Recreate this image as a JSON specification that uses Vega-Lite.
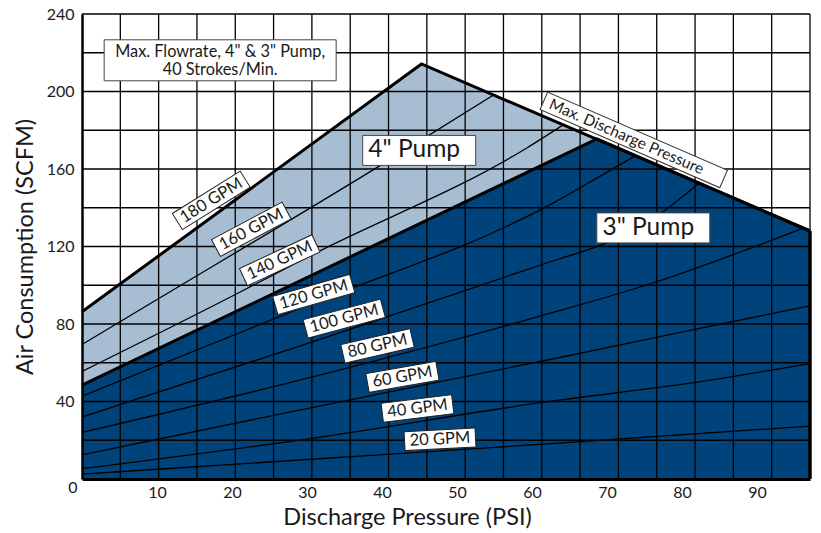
{
  "$schema": "https://vega.github.io/schema/vega-lite/v6.json",
  "width": 728,
  "height": 465,
  "autosize": {"type": "none"},
  "padding": {"left": 82, "top": 14, "right": 11, "bottom": 54},
  "background": "white",
  "config": {"view": {"stroke": null}, "font": "Lato", "text": {"font": "Lato", "color": "#1a1a1a"}},
  "datasets": {
    "bounds": [
      {"pump": "4in", "psi": 0, "scfm": 86.3},
      {"pump": "4in", "psi": 44.3, "scfm": 214.2},
      {"pump": "4in", "psi": 95, "scfm": 128},
      {"pump": "3in", "psi": 0, "scfm": 48.5},
      {"pump": "3in", "psi": 67.2, "scfm": 175.5},
      {"pump": "3in", "psi": 95, "scfm": 128}
    ],
    "gridx": [
      {"psi": 5}, {"psi": 10}, {"psi": 15}, {"psi": 20}, {"psi": 25}, {"psi": 30}, {"psi": 35}, {"psi": 40}, {"psi": 45}, {"psi": 50},
      {"psi": 55}, {"psi": 60}, {"psi": 65}, {"psi": 70}, {"psi": 75}, {"psi": 80}, {"psi": 85}, {"psi": 90}, {"psi": 95}
    ],
    "gridy": [
      {"scfm": 20}, {"scfm": 40}, {"scfm": 60}, {"scfm": 80}, {"scfm": 100}, {"scfm": 120},
      {"scfm": 140}, {"scfm": 160}, {"scfm": 180}, {"scfm": 200}, {"scfm": 220}, {"scfm": 240}
    ],
    "curves": [
      {"gpm": "20 GPM", "psi": 0, "scfm": 2.5},
      {"gpm": "20 GPM", "psi": 28.4, "scfm": 9.8},
      {"gpm": "20 GPM", "psi": 61.7, "scfm": 18.4},
      {"gpm": "20 GPM", "psi": 95, "scfm": 27.3},
      {"gpm": "40 GPM", "psi": 0, "scfm": 5.3},
      {"gpm": "40 GPM", "psi": 28.4, "scfm": 20.1},
      {"gpm": "40 GPM", "psi": 61.7, "scfm": 40.4},
      {"gpm": "40 GPM", "psi": 79.1, "scfm": 49.3},
      {"gpm": "40 GPM", "psi": 95, "scfm": 59.6},
      {"gpm": "60 GPM", "psi": 0, "scfm": 12.5},
      {"gpm": "60 GPM", "psi": 28.4, "scfm": 35.6},
      {"gpm": "60 GPM", "psi": 61.7, "scfm": 62.2},
      {"gpm": "60 GPM", "psi": 79.5, "scfm": 76.8},
      {"gpm": "60 GPM", "psi": 95, "scfm": 89.4},
      {"gpm": "80 GPM", "psi": 0, "scfm": 24},
      {"gpm": "80 GPM", "psi": 28.4, "scfm": 51},
      {"gpm": "80 GPM", "psi": 61.7, "scfm": 86.2},
      {"gpm": "80 GPM", "psi": 74.3, "scfm": 100.9},
      {"gpm": "80 GPM", "psi": 94.1, "scfm": 129.5},
      {"gpm": "100 GPM", "psi": 0, "scfm": 32},
      {"gpm": "100 GPM", "psi": 28.4, "scfm": 68.6},
      {"gpm": "100 GPM", "psi": 61.7, "scfm": 112.9},
      {"gpm": "100 GPM", "psi": 68.2, "scfm": 121.5},
      {"gpm": "100 GPM", "psi": 74.8, "scfm": 135.2},
      {"gpm": "100 GPM", "psi": 80.5, "scfm": 152.7},
      {"gpm": "120 GPM", "psi": 0, "scfm": 42.7},
      {"gpm": "120 GPM", "psi": 28.4, "scfm": 88},
      {"gpm": "120 GPM", "psi": 61.7, "scfm": 142.9},
      {"gpm": "120 GPM", "psi": 67.4, "scfm": 155.8},
      {"gpm": "120 GPM", "psi": 72.2, "scfm": 166.8},
      {"gpm": "140 GPM", "psi": 0, "scfm": 55.5},
      {"gpm": "140 GPM", "psi": 20.4, "scfm": 96},
      {"gpm": "140 GPM", "psi": 29.9, "scfm": 115.5},
      {"gpm": "140 GPM", "psi": 58.1, "scfm": 171},
      {"gpm": "140 GPM", "psi": 62.8, "scfm": 182.8},
      {"gpm": "160 GPM", "psi": 0, "scfm": 69.4},
      {"gpm": "160 GPM", "psi": 8.6, "scfm": 89.8},
      {"gpm": "160 GPM", "psi": 39, "scfm": 162},
      {"gpm": "160 GPM", "psi": 53.7, "scfm": 198.2}
    ],
    "gpmlabels": [
      {"label": "180 GPM", "psi": 16.87, "scfm": 143.8, "rot": -32},
      {"label": "160 GPM", "psi": 22.09, "scfm": 128.9, "rot": -28},
      {"label": "140 GPM", "psi": 25.8, "scfm": 112.9, "rot": -25},
      {"label": "120 GPM", "psi": 30.24, "scfm": 95.2, "rot": -16},
      {"label": "100 GPM", "psi": 34.22, "scfm": 82.8, "rot": -15},
      {"label": "80 GPM", "psi": 38.56, "scfm": 68.7, "rot": -13},
      {"label": "60 GPM", "psi": 41.82, "scfm": 52.7, "rot": -10},
      {"label": "40 GPM", "psi": 43.78, "scfm": 36.4, "rot": -7},
      {"label": "20 GPM", "psi": 46.72, "scfm": 20.5, "rot": -3}
    ],
    "pumplabels": [
      {"label": "4\" Pump", "psi": 44.0, "scfm": 169.6},
      {"label": "3\" Pump", "psi": 74.55, "scfm": 129.6}
    ],
    "note": [
      {"label": "Max. Flowrate, 4\" & 3\" Pump,\n40 Strokes/Min.", "psi": 18.03, "scfm": 216.1}
    ],
    "maxd": [
      {"label": "Max. Discharge Pressure", "psi": 72.0, "scfm": 175.0}
    ]
  },
  "layer": [
    {
      "layer": [
        {
          "data": {"name": "bounds"},
          "transform": [{"filter": "datum.pump === '4in'"}],
          "mark": {"type": "area", "color": "#a7bdd2", "opacity": 1},
          "encoding": {
            "x": {"field": "psi", "type": "quantitative", "scale": {"domain": [0, 95], "nice": false}, "axis": null},
            "y": {"field": "scfm", "type": "quantitative", "scale": {"domain": [0, 240], "nice": false},
              "axis": {
                "values": [0, 40, 80, 120, 160, 200, 240],
                "grid": false, "ticks": false, "tickSize": 0,
                "domain": true, "domainColor": "black", "domainWidth": 2.5,
                "labelFont": "Lato", "labelFontSize": 16, "labelColor": "#1a1a1a",
                "labelPadding": {"condition": {"test": "datum.value === 0", "value": 5}, "value": 8},
                "labelBaseline": {"condition": {"test": "datum.value === 0", "value": "top"}, "value": "middle"},
                "title": "Air Consumption (SCFM)", "titleFont": "Lato", "titleFontSize": 23.5,
                "titleFontWeight": "normal", "titleColor": "#1a1a1a", "titlePadding": 9,
                "zindex": 1
              }
            }
          }
        },
        {
          "data": {"name": "bounds"},
          "transform": [{"filter": "datum.pump === '3in'"}],
          "mark": {"type": "area", "color": "#00427a", "opacity": 1},
          "encoding": {
            "x": {"field": "psi", "type": "quantitative", "axis": null},
            "y": {"field": "scfm", "type": "quantitative"}
          }
        },
        {
          "data": {"name": "gridx"},
          "mark": {"type": "rule", "color": "black", "strokeWidth": 1.3},
          "encoding": {"x": {"field": "psi", "type": "quantitative", "axis": null}}
        },
        {
          "data": {"name": "gridy"},
          "mark": {"type": "rule", "color": "black", "strokeWidth": 1.3},
          "encoding": {"y": {"field": "scfm", "type": "quantitative"}}
        },
        {
          "data": {"name": "curves"},
          "mark": {"type": "line", "color": "black", "strokeWidth": 1.3, "interpolate": "monotone"},
          "encoding": {
            "x": {"field": "psi", "type": "quantitative", "axis": null},
            "y": {"field": "scfm", "type": "quantitative"},
            "detail": {"field": "gpm", "type": "nominal"}
          }
        },
        {
          "data": {"name": "bounds"},
          "mark": {"type": "line", "color": "black", "strokeWidth": 3},
          "encoding": {
            "x": {"field": "psi", "type": "quantitative", "axis": null},
            "y": {"field": "scfm", "type": "quantitative"},
            "detail": {"field": "pump", "type": "nominal"}
          }
        },
        {
          "data": {"name": "bounds"},
          "transform": [{"filter": "datum.pump === '3in' && datum.psi === 95"}],
          "mark": {"type": "rule", "color": "black", "strokeWidth": 3.5},
          "encoding": {
            "x": {"field": "psi", "type": "quantitative", "axis": null},
            "y": {"field": "scfm", "type": "quantitative"},
            "y2": {"datum": 0}
          }
        },
        {
          "data": {"name": "gpmlabels"},
          "transform": [{"filter": "length(datum.label) === 7"}],
          "mark": {"type": "point", "shape": "M-1,-0.2375H1V0.2375H-1Z", "size": 6400, "filled": true, "fill": "white", "stroke": "#222222", "strokeWidth": 1, "opacity": 1},
          "encoding": {
            "x": {"field": "psi", "type": "quantitative", "axis": null},
            "y": {"field": "scfm", "type": "quantitative"},
            "angle": {"field": "rot", "type": "quantitative", "scale": null}
          }
        },
        {
          "data": {"name": "gpmlabels"},
          "transform": [{"filter": "length(datum.label) === 6"}],
          "mark": {"type": "point", "shape": "M-1,-0.2676H1V0.2676H-1Z", "size": 5041, "filled": true, "fill": "white", "stroke": "#222222", "strokeWidth": 1, "opacity": 1},
          "encoding": {
            "x": {"field": "psi", "type": "quantitative", "axis": null},
            "y": {"field": "scfm", "type": "quantitative"},
            "angle": {"field": "rot", "type": "quantitative", "scale": null}
          }
        },
        {
          "data": {"name": "gpmlabels"},
          "mark": {"type": "text", "font": "Lato", "fontSize": 16.5, "color": "#1a1a1a", "align": "center", "baseline": "middle"},
          "encoding": {
            "x": {"field": "psi", "type": "quantitative", "axis": null},
            "y": {"field": "scfm", "type": "quantitative"},
            "angle": {"field": "rot", "type": "quantitative", "scale": null},
            "text": {"field": "label"}
          }
        },
        {
          "data": {"name": "pumplabels"},
          "mark": {"type": "point", "shape": "M-1,-0.2655H1V0.2655H-1Z", "size": 12769, "filled": true, "fill": "white", "stroke": "#444444", "strokeWidth": 1, "opacity": 1},
          "encoding": {
            "x": {"field": "psi", "type": "quantitative", "axis": null},
            "y": {"field": "scfm", "type": "quantitative"}
          }
        },
        {
          "data": {"name": "pumplabels"},
          "mark": {"type": "text", "font": "Lato", "fontSize": 24.5, "color": "#1a1a1a", "align": "center", "baseline": "middle", "dx": -5},
          "encoding": {
            "x": {"field": "psi", "type": "quantitative", "axis": null},
            "y": {"field": "scfm", "type": "quantitative"},
            "text": {"field": "label"}
          }
        },
        {
          "data": {"name": "note"},
          "mark": {"type": "point", "shape": "M-1,-0.1767H1V0.1767H-1Z", "size": 53824, "filled": true, "fill": "white", "stroke": "#444444", "strokeWidth": 1, "opacity": 1},
          "encoding": {
            "x": {"field": "psi", "type": "quantitative", "axis": null},
            "y": {"field": "scfm", "type": "quantitative"}
          }
        },
        {
          "data": {"name": "note"},
          "mark": {"type": "text", "font": "Lato", "fontSize": 16.3, "color": "#1a1a1a", "align": "center", "baseline": "middle", "lineBreak": "\n", "lineHeight": 18.5, "dy": -8.5},
          "encoding": {
            "x": {"field": "psi", "type": "quantitative", "axis": null},
            "y": {"field": "scfm", "type": "quantitative"},
            "text": {"field": "label"}
          }
        },
        {
          "data": {"name": "maxd"},
          "mark": {"type": "point", "shape": "M-1,-0.0969H1V0.0969H-1Z", "size": 38416, "filled": true, "fill": "white", "stroke": "#333333", "strokeWidth": 1, "opacity": 1, "angle": 23.5},
          "encoding": {
            "x": {"field": "psi", "type": "quantitative", "axis": null},
            "y": {"field": "scfm", "type": "quantitative"}
          }
        },
        {
          "data": {"name": "maxd"},
          "mark": {"type": "text", "font": "Lato", "fontSize": 15.5, "color": "#1a1a1a", "align": "center", "baseline": "middle", "angle": 23.5, "dx": -8},
          "encoding": {
            "x": {"field": "psi", "type": "quantitative", "axis": null},
            "y": {"field": "scfm", "type": "quantitative"},
            "text": {"field": "label"}
          }
        }
      ]
    },
    {
      "data": {"name": "gridx"},
      "mark": {"type": "rule", "strokeOpacity": 0},
      "encoding": {
        "x": {"field": "psi", "type": "quantitative", "scale": {"domain": [0, 97.07], "nice": false},
          "axis": {
            "orient": "bottom",
            "values": [10, 20, 30, 40, 50, 60, 70, 80, 90],
            "grid": false, "ticks": false, "tickSize": 0,
            "domain": true, "domainColor": "black", "domainWidth": 3,
            "labelFont": "Lato", "labelFontSize": 16, "labelColor": "#1a1a1a", "labelPadding": 5, "labelFlush": false,
            "title": "Discharge Pressure (PSI)", "titleFont": "Lato", "titleFontSize": 23.5,
            "titleFontWeight": "normal", "titleColor": "#1a1a1a", "titlePadding": 5, "titleX": 325,
            "zindex": 1
          }
        }
      }
    }
  ],
  "resolve": {"scale": {"x": "independent"}}
}
